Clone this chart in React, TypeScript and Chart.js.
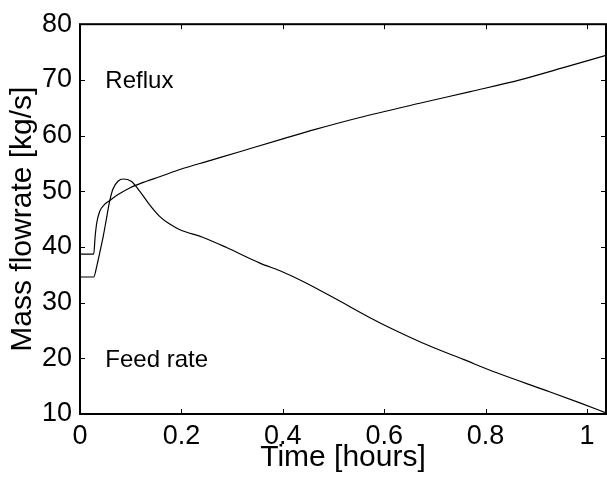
import React, { useEffect, useRef } from "react";
import { Chart, registerables } from "chart.js";

Chart.register(...registerables);

const refluxTime = [0, 0.027, 0.030, 0.033, 0.039, 0.048, 0.058, 0.075, 0.098, 0.131, 0.157, 0.197, 0.256, 0.315, 0.4, 0.464, 0.55, 0.67, 0.77, 0.868, 0.95, 1.0375];
const refluxRate = [38.7, 38.7, 42.0, 44.3, 46.4, 47.6, 48.3, 49.4, 50.6, 51.8, 52.6, 53.9, 55.5, 57.1, 59.4, 61.1, 63.2, 65.8, 67.9, 70.0, 72.1, 74.4];

const feedTime = [0, 0.027, 0.033, 0.039, 0.046, 0.052, 0.058, 0.065, 0.075, 0.085, 0.101, 0.118, 0.137, 0.157, 0.177, 0.197, 0.243, 0.289, 0.355, 0.40, 0.44, 0.506, 0.572, 0.611, 0.69, 0.756, 0.822, 0.92, 0.986, 1.0375];
const feedRate = [34.6, 34.6, 36.5, 39.0, 42.0, 45.0, 48.0, 50.4, 51.8, 52.2, 51.8, 50.0, 47.6, 45.5, 44.1, 43.1, 41.7, 39.9, 37.1, 35.5, 33.8, 30.6, 27.3, 25.5, 22.2, 19.8, 17.4, 14.2, 12.0, 10.2];

const xTicks = [0, 0.2, 0.4, 0.6, 0.8, 1.0];
const yTicks = [10, 20, 30, 40, 50, 60, 70, 80];
const xRange = [0, 1.0375];
const yRange = [10, 80];

const annotations = [
  { text: "Reflux", x: 0.05, y: 70 },
  { text: "Feed rate", x: 0.05, y: 20 },
];

const FONT = "'Liberation Sans', Arial, Helvetica, sans-serif";

const boxPlugin = {
  id: "boxTicks",
  afterDatasetsDraw(chart: any) {
    const { ctx, chartArea: a, scales } = chart;
    const xs = scales.x;
    const ys = scales.y;
    ctx.save();
    ctx.strokeStyle = "#000";
    ctx.lineWidth = 1;
    const L = 5;
    ctx.beginPath();
    xTicks.forEach((v) => {
      const px = Math.round(xs.getPixelForValue(v)) + 0.5;
      ctx.moveTo(px, a.bottom);
      ctx.lineTo(px, a.bottom - L);
      ctx.moveTo(px, a.top);
      ctx.lineTo(px, a.top + L);
    });
    yTicks.forEach((v) => {
      const py = Math.round(ys.getPixelForValue(v)) + 0.5;
      ctx.moveTo(a.left, py);
      ctx.lineTo(a.left + L, py);
      ctx.moveTo(a.right, py);
      ctx.lineTo(a.right - L, py);
    });
    ctx.stroke();
    ctx.lineWidth = 2;
    ctx.strokeRect(a.left, a.top, a.right - a.left, a.bottom - a.top);
    ctx.fillStyle = "#000";
    ctx.font = `24px ${FONT}`;
    ctx.textAlign = "left";
    ctx.textBaseline = "alphabetic";
    annotations.forEach((an) => {
      ctx.fillText(an.text, xs.getPixelForValue(an.x), ys.getPixelForValue(an.y) + 8.5);
    });
    ctx.restore();
  },
};

export default function App() {
  const ref = useRef<HTMLCanvasElement>(null);
  useEffect(() => {
    document.body.style.margin = "0";
    const chart = new Chart(ref.current as HTMLCanvasElement, {
      type: "line",
      data: {
        datasets: [
          {
            label: "Reflux",
            data: refluxTime.map((t, i) => ({ x: t, y: refluxRate[i] })),
            borderColor: "#000",
            borderWidth: 1.2,
            pointRadius: 0,
            cubicInterpolationMode: "monotone",
            fill: false,
          },
          {
            label: "Feed rate",
            data: feedTime.map((t, i) => ({ x: t, y: feedRate[i] })),
            borderColor: "#000",
            borderWidth: 1.2,
            pointRadius: 0,
            cubicInterpolationMode: "monotone",
            fill: false,
          },
        ],
      },
      options: {
        animation: false,
        responsive: false,
        layout: { padding: { top: 21, right: 1, left: 0, bottom: 0 } },
        plugins: { legend: { display: false }, tooltip: { enabled: false } },
        scales: {
          x: {
            type: "linear",
            min: xRange[0],
            max: xRange[1],
            afterBuildTicks: (s: any) => {
              s.ticks = xTicks.map((v) => ({ value: v }));
            },
            afterFit: (s: any) => {
              s.height = 66;
            },
            grid: { display: false, drawTicks: false },
            border: { display: false },
            ticks: {
              color: "#000",
              padding: 6,
              maxRotation: 0,
              autoSkip: false,
              font: { family: FONT, size: 27 },
              callback: (v: any) => String(Number(v)),
            },
            title: {
              display: true,
              text: "Time [hours]",
              color: "#000",
              font: { family: FONT, size: 30 },
              padding: { top: 0, bottom: 4 },
            },
          },
          y: {
            type: "linear",
            min: yRange[0],
            max: yRange[1],
            afterBuildTicks: (s: any) => {
              s.ticks = yTicks.map((v) => ({ value: v }));
            },
            afterFit: (s: any) => {
              s.width = 80;
            },
            grid: { display: false, drawTicks: false },
            border: { display: false },
            ticks: {
              color: "#000",
              padding: 8,
              autoSkip: false,
              font: { family: FONT, size: 27 },
              callback: (v: any) => String(Number(v)),
            },
            title: {
              display: true,
              text: "Mass flowrate [kg/s]",
              color: "#000",
              font: { family: FONT, size: 30 },
              padding: { top: 5, bottom: 0 },
            },
          },
        },
      },
      plugins: [boxPlugin],
    } as any);
    return () => chart.destroy();
  }, []);
  return (
    <div style={{ position: "absolute", left: 0, top: 0, width: 607, height: 480, background: "#fff" }}>
      <canvas ref={ref} width={607} height={480} style={{ display: "block" }} />
    </div>
  );
}
